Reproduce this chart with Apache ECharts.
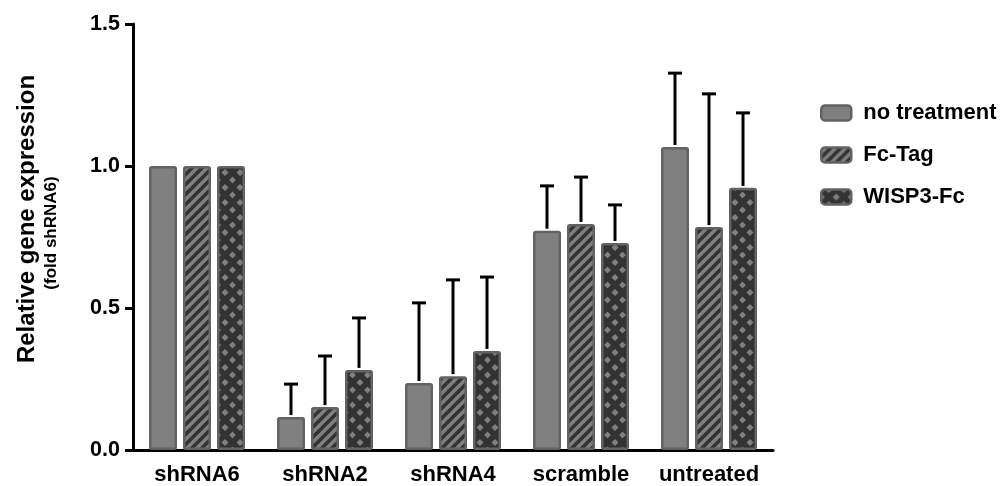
<!DOCTYPE html>
<html><head><meta charset="utf-8">
<script src="https://cdn.jsdelivr.net/npm/echarts@6/dist/echarts.min.js"></script>
<style>html,body{margin:0;padding:0;background:#fff}#c{width:1000px;height:486px}</style>
</head><body><div id="c"></div>
<script>
const categories = ['shRNA6','shRNA2','shRNA4','scramble','untreated'];
const seriesNames = ['no treatment','Fc-Tag','WISP3-Fc'];
const noTreatment = [1.0, 0.116, 0.236, 0.772, 1.067];
const fcTag       = [1.0, 0.151, 0.260, 0.796, 0.785];
const wisp3Fc     = [1.0, 0.282, 0.349, 0.729, 0.923];
const errNoTreatment = [0, 0.116, 0.282, 0.158, 0.260];
const errFcTag       = [0, 0.180, 0.339, 0.165, 0.469];
const errWisp3Fc     = [0, 0.183, 0.260, 0.134, 0.264];
const yTicks = [0, 0.5, 1.0, 1.5];

const values = [noTreatment, fcTag, wisp3Fc];
const errors = [errNoTreatment, errFcTag, errWisp3Fc];

const FONT = '"Liberation Sans", Arial, sans-serif';
const GREY = '#808080', DARK = '#333333', EDGE = '#636363';

function stripeTile(){
  const p = 10, c = document.createElement('canvas'); c.width = p; c.height = p;
  const g = c.getContext('2d');
  g.fillStyle = GREY; g.fillRect(0,0,p,p);
  g.strokeStyle = DARK; g.lineWidth = 3.6;
  for (const o of [-p,0,p]) { g.beginPath(); g.moveTo(o-2, p+2); g.lineTo(o+p+2, -2); g.stroke(); }
  return c;
}
function crossTile(){
  const p = 15, c = document.createElement('canvas'); c.width = p; c.height = p;
  const g = c.getContext('2d');
  g.fillStyle = GREY; g.fillRect(0,0,p,p);
  g.strokeStyle = DARK; g.lineWidth = 5.8;
  for (const o of [-p,0,p]) {
    g.beginPath(); g.moveTo(o-3, p+3); g.lineTo(o+p+3, -3); g.stroke();
    g.beginPath(); g.moveTo(o-3, -3); g.lineTo(o+p+3, p+3); g.stroke();
  }
  return c;
}
const fills = [GREY, {image: stripeTile(), repeat: 'repeat'}, {image: crossTile(), repeat: 'repeat'}];

const BAR_W = 28, BAR_GAP = 6;

const chart = echarts.init(document.getElementById('c'), null, {renderer: 'canvas'});
const series = [];
seriesNames.forEach((name, i) => {
  series.push({
    name, type: 'bar', data: values[i], barWidth: BAR_W, barGap: (BAR_GAP / BAR_W * 100) + '%',
    itemStyle: {color: fills[i], borderColor: EDGE, borderWidth: 2.5, borderRadius: 1.5},
    z: 3
  });
});
seriesNames.forEach((name, i) => {
  series.push({
    type: 'custom', name: name + ' err', z: 4, silent: true,
    data: values[i].map((v, k) => [k, v, errors[i][k]]),
    renderItem(params, api) {
      const k = api.value(0), v = api.value(1), e = api.value(2);
      if (!e) return null;
      const off = (i - 1) * (BAR_W + BAR_GAP);
      const p0 = api.coord([k, v]), p1 = api.coord([k, v + e]);
      const x = p0[0] + off;
      const st = {stroke: '#000', lineWidth: 3};
      return {type: 'group', children: [
        {type: 'line', shape: {x1: x, y1: p0[1] - 2, x2: x, y2: p1[1]}, style: st},
        {type: 'line', shape: {x1: x - 7, y1: p1[1], x2: x + 7, y2: p1[1]}, style: st}
      ]};
    }
  });
});

chart.setOption({
  animation: false,
  backgroundColor: '#fff',
  grid: {left: 133, right: 227, top: 24, bottom: 36},
  legend: {
    data: seriesNames, orient: 'vertical', left: 815, top: 97,
    itemWidth: 30, itemHeight: 15, itemGap: 20, icon: 'roundRect',
    itemStyle: {borderColor: EDGE, borderWidth: 2.5},
    textStyle: {fontFamily: FONT, fontWeight: 'bold', fontSize: 22, color: '#000', padding: [0,0,0,7]}
  },
  xAxis: {
    type: 'category', data: categories,
    axisLine: {lineStyle: {color: '#000', width: 3}},
    axisTick: {alignWithLabel: true, length: 7, lineStyle: {color: '#000', width: 3}},
    axisLabel: {interval: 0, hideOverlap: false, fontFamily: FONT, fontWeight: 'bold', fontSize: 22, color: '#000', margin: 14}
  },
  yAxis: {
    type: 'value', min: yTicks[0], max: yTicks[yTicks.length-1], interval: 0.5,
    axisLine: {show: true, lineStyle: {color: '#000', width: 3}},
    axisTick: {show: true, length: 8, lineStyle: {color: '#000', width: 3}},
    splitLine: {show: false},
    axisLabel: {fontFamily: FONT, fontWeight: 'bold', fontSize: 21.5, color: '#000', margin: 13,
      formatter: v => v.toFixed(1)}
  },
  graphic: [
    {type: 'text', x: 27, y: 219, rotation: Math.PI/2, style: {text: 'Relative gene expression',
      font: 'bold 24px ' + FONT, fill: '#000', textAlign: 'center', textVerticalAlign: 'middle'}},
    {type: 'text', x: 51, y: 233, rotation: Math.PI/2, style: {text: '(fold shRNA6)',
      font: 'bold 17px ' + FONT, fill: '#000', textAlign: 'center', textVerticalAlign: 'middle'}}
  ],
  series
});
</script></body></html>
